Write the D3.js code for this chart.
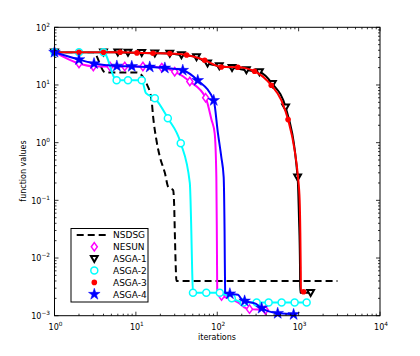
<!DOCTYPE html>
<html>
<head>
<meta charset="utf-8">
<script src="https://cdn.jsdelivr.net/npm/d3@7"></script>
<style>
body { margin: 0; background: #fff; }
svg { display: block; }
text { font-family: "DejaVu Sans", sans-serif; fill: #000; }
</style>
</head>
<body>
<script>
// values: [iteration, function value]
var nsdsgPath = [[1,37],[3,37],[4.2,16.5],[10.3,16.5],[13.5,10.6],[15.6,5.4],[16.3,2.8],[17.9,1.1],[19.7,0.57],[22.7,0.3],[25,0.17],[28.7,0.15],[29.5,0.088],[30.2,0.023],[31,0.0062],[31.5,0.004],[3000,0.004]];

var nesunMarks = [[1,37],[2,23.5],[3,21],[4.8,21],[7.3,21],[12.2,21],[20.8,20],[30,17],[46,11.5],[72,6],[113,0.0022],[249,0.0013],[390,0.00125]];
var nesunPath = [[85,2.5],[93,1.45],[97.5,0.25],[99,0.02],[100,0.0024],[180,0.0017],[215,0.0014],[430,0.0012]];

var asga1Marks = [[1,37],[4,37],[6,37],[8,36.5],[11.8,36],[17.1,35.5],[26.1,35],[36.3,33],[55.6,30.6],[76,23.8],[106,21.3],[152,19.9],[228,18.1],[330,16.8],[476,10.5],[692,4.1],[972,0.25],[1404,0.0025]];
var asga1Path = [[1010,0.05],[1040,0.007],[1045,0.0025]];

var asga2Marks = [[1,37],[2,37],[4,37],[5.8,12.1],[8,12.1],[11.8,12.1],[17.1,5.9],[24.7,2.66],[35.6,0.98],[50.3,0.0025],[73.3,0.0025],[107.5,0.0025],[151,0.002],[211,0.0017],[305,0.0017],[428,0.0017],[618,0.0017],[893,0.0017],[1254,0.0017]];
var asga2Path = [[13.3,7.2],[46,0.2],[48,0.03],[49.2,0.006]];

var asga3Marks = [[1,37],[2,37],[4,37],[6.4,37],[10.3,36],[16.2,35.5],[26.1,35],[42,33],[70,26.8],[112,20.5],[179,20.3],[287,17.3],[461,9.9],[742,2.51],[1150,0.0026]];
var asga3Path = [[614,5.43],[893,0.74],[982,0.255],[1030,0.1],[1050,0.027],[1062,0.0069],[1068,0.0026]];

var asga4Marks = [[1,37],[2,27.6],[3.06,23.5],[5.84,21.3],[8.9,21],[14.8,20.5],[22.7,19.7],[37.7,18],[57.6,12],[90.5,5.4],[143,0.0024],[217,0.0018],[351,0.00135],[553,0.0011],[868,0.00105]];
var asga4Path = [[102,1.45],[112,0.57],[120,0.25],[123,0.03],[125,0.0025],[180,0.0023],[200,0.0019],[300,0.0016],[420,0.0012],[700,0.00108]];

var legendLabels = ["NSDSG","NESUN","ASGA-1","ASGA-2","ASGA-3","ASGA-4"];
var xTickExp = [0,1,2,3,4];
var yTickExp = [-3,-2,-1,0,1,2];

var series = [
  {marks: [], path: nsdsgPath, color: "#000", dash: "7,4", marker: null},
  {marks: nesunMarks, path: nesunPath, color: "#ff00ff", marker: "diamond"},
  {marks: asga1Marks, path: asga1Path, color: "#000", marker: "tri"},
  {marks: asga2Marks, path: asga2Path, color: "#00ffff", marker: "circle"},
  {marks: asga3Marks, path: asga3Path, color: "#ff0000", marker: "dot"},
  {marks: asga4Marks, path: asga4Path, color: "#0000ff", marker: "star"}
];

var svg = d3.select('body').append('svg').attr('width', 420).attr('height', 356);

var x = d3.scaleLog().domain([1, 1e4]).range([54.5, 380]);
var y = d3.scaleLog().domain([1e-3, 1e2]).range([315.7, 27.3]);
var x0 = x.range()[0], x1 = x.range()[1], y0 = y.range()[0], y1 = y.range()[1];

svg.append('clipPath').attr('id', 'plot')
  .append('rect').attr('x', x0).attr('y', y1).attr('width', x1 - x0).attr('height', y0 - y1);

var line = d3.line().x(function(d){ return x(d[0]); }).y(function(d){ return y(d[1]); })
  .curve(d3.curveMonotoneX);

function drawMarker(g, type, color) {
  if (type == 'diamond') {
    g.append('path').attr('d', 'M0,-4.2L3,0L0,4.2L-3,0Z')
      .style('fill', '#fff').style('stroke', color).style('stroke-width', 1.5);
  } else if (type == 'tri') {
    g.append('path').attr('d', 'M-3.4,-2.8L3.4,-2.8L0,3.2Z')
      .style('fill', '#fff').style('stroke', color).style('stroke-width', 2)
      .style('stroke-linejoin', 'miter');
  } else if (type == 'circle') {
    g.append('circle').attr('r', 3.5)
      .style('fill', '#fff').style('stroke', color).style('stroke-width', 1.5);
  } else if (type == 'dot') {
    g.append('circle').attr('r', 2.8).style('fill', color);
  } else if (type == 'star') {
    g.append('path').attr('d', d3.symbol().type(d3.symbolStar).size(42)())
      .style('fill', color).style('stroke', color).style('stroke-width', 0.5);
  }
}

var plot = svg.append('g');
series.forEach(function(s) {
  var pts = s.marks.concat(s.path).sort(function(a, b){ return a[0] - b[0]; });
  plot.append('path').attr('d', line(pts))
    .attr('clip-path', 'url(#plot)')
    .style('fill', 'none').style('stroke', s.color).style('stroke-width', 2)
    .style('stroke-dasharray', s.dash || null);
  s.marks.forEach(function(d) {
    var g = plot.append('g').attr('transform', 'translate(' + x(d[0]) + ',' + y(d[1]) + ')');
    drawMarker(g, s.marker, s.color);
  });
});

// frame
svg.append('rect').attr('x', x0).attr('y', y1).attr('width', x1 - x0).attr('height', y0 - y1)
  .style('fill', 'none').style('stroke', '#000').style('stroke-width', 1);

// ticks on all four sides
var ax = svg.append('g').style('stroke', '#000').style('stroke-width', 0.8);
x.ticks().forEach(function(t) {
  var major = Math.abs(Math.log10(t) - Math.round(Math.log10(t))) < 1e-9;
  var len = major ? 4 : 2;
  ax.append('line').attr('x1', x(t)).attr('x2', x(t)).attr('y1', y0).attr('y2', y0 - len);
  ax.append('line').attr('x1', x(t)).attr('x2', x(t)).attr('y1', y1).attr('y2', y1 + len);
});
y.ticks().forEach(function(t) {
  var major = Math.abs(Math.log10(t) - Math.round(Math.log10(t))) < 1e-9;
  var len = major ? 4 : 2;
  ax.append('line').attr('y1', y(t)).attr('y2', y(t)).attr('x1', x0).attr('x2', x0 + len);
  ax.append('line').attr('y1', y(t)).attr('y2', y(t)).attr('x1', x1).attr('x2', x1 - len);
});

function expLabel(sel, e) {
  sel.append('tspan').text('10');
  sel.append('tspan').attr('dy', -4).style('font-size', '5.8px')
    .text(e < 0 ? '\u2212' + (-e) : String(e));
}

xTickExp.forEach(function(e) {
  var t = svg.append('text').attr('x', x(Math.pow(10, e)) + 1).attr('y', 329.5)
    .attr('text-anchor', 'middle').style('font-size', '8px');
  expLabel(t, e);
});
yTickExp.forEach(function(e) {
  var t = svg.append('text').attr('x', 50).attr('y', y(Math.pow(10, e)) + 3.3)
    .attr('text-anchor', 'end').style('font-size', '8px');
  expLabel(t, e);
});

svg.append('text').attr('x', 217).attr('y', 340).attr('text-anchor', 'middle')
  .style('font-size', '8px').text('iterations');
svg.append('text').attr('transform', 'translate(26,171) rotate(-90)').attr('text-anchor', 'middle')
  .style('font-size', '8px').text('function values');

// legend
var leg = svg.append('g');
leg.append('rect').attr('x', 71).attr('y', 228.5).attr('width', 77).attr('height', 73.5)
  .style('fill', '#fff').style('stroke', '#000').style('stroke-width', 1);
legendLabels.forEach(function(name, i) {
  var s = series[i];
  var ly = 235 + i * 11.85;
  if (s.marker) {
    drawMarker(leg.append('g').attr('transform', 'translate(94.3,' + ly + ')'), s.marker, s.color);
  } else {
    leg.append('line').attr('x1', 76.7).attr('x2', 106.7).attr('y1', ly).attr('y2', ly)
      .style('stroke', s.color).style('stroke-width', 2).style('stroke-dasharray', s.dash);
  }
  leg.append('text').attr('x', 113).attr('y', ly + 3.3).style('font-size', '9px').text(name);
});
</script>
</body>
</html>
